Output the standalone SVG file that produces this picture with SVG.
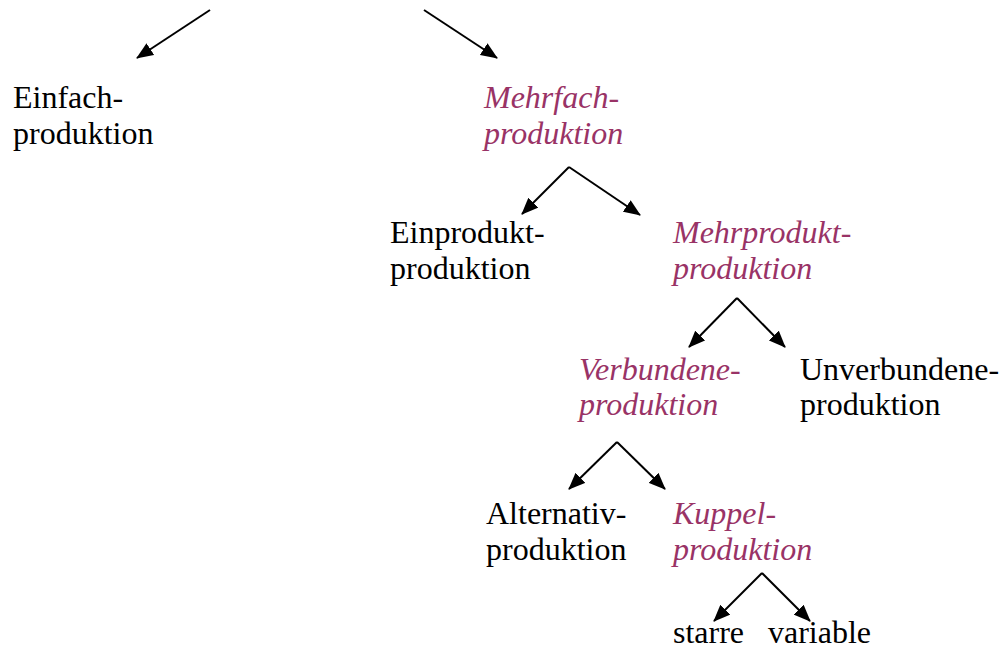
<svg xmlns="http://www.w3.org/2000/svg" width="1000" height="650" viewBox="0 0 1000 650">
<style>
text{font-family:"Liberation Serif","Times New Roman",serif;font-size:32px;fill:#000}
.it{font-style:italic;fill:#993366}
.c line{stroke:#000;stroke-width:2;marker-end:url(#ah)}
</style>
<defs>
<marker id="ah" viewBox="0 0 17 14" refX="16" refY="7" markerWidth="17" markerHeight="14" markerUnits="userSpaceOnUse" orient="auto">
<path d="M0,0 L17,7 L0,14 z" fill="#000"/>
</marker>
</defs>
<rect width="1000" height="650" fill="#fff"/>
<g id="connectors" class="c">
<line x1="210" y1="10" x2="137" y2="58"/>
<line x1="424" y1="10" x2="497" y2="58"/>
<line x1="569" y1="167" x2="522" y2="214"/>
<line x1="569" y1="167" x2="640" y2="215"/>
<line x1="737" y1="298" x2="689" y2="347"/>
<line x1="737" y1="298" x2="785" y2="347"/>
<line x1="617" y1="442" x2="569" y2="489"/>
<line x1="617" y1="442" x2="665" y2="489"/>
<line x1="762" y1="573" x2="714" y2="621"/>
<line x1="762" y1="573" x2="810" y2="621"/>
</g>
<g id="einfach"><text x="13" y="108">Einfach-</text><text x="13" y="144">produktion</text></g>
<g id="mehrfach"><text class="it" x="484" y="108">Mehrfach-</text><text class="it" x="484" y="144">produktion</text></g>
<g id="einprodukt"><text x="390" y="243">Einprodukt-</text><text x="390" y="279">produktion</text></g>
<g id="mehrprodukt"><text class="it" x="673" y="243">Mehrprodukt-</text><text class="it" x="673" y="279">produktion</text></g>
<g id="verbundene"><text class="it" x="579" y="380">Verbundene-</text><text class="it" x="579" y="415">produktion</text></g>
<g id="unverbundene"><text x="800" y="380">Unverbundene-</text><text x="800" y="415">produktion</text></g>
<g id="alternativ"><text x="486" y="524">Alternativ-</text><text x="486" y="560">produktion</text></g>
<g id="kuppel"><text class="it" x="673" y="524">Kuppel-</text><text class="it" x="673" y="560">produktion</text></g>
<g id="starre"><text x="673" y="643">starre</text></g>
<g id="variable"><text x="768" y="643">variable</text></g>
</svg>
